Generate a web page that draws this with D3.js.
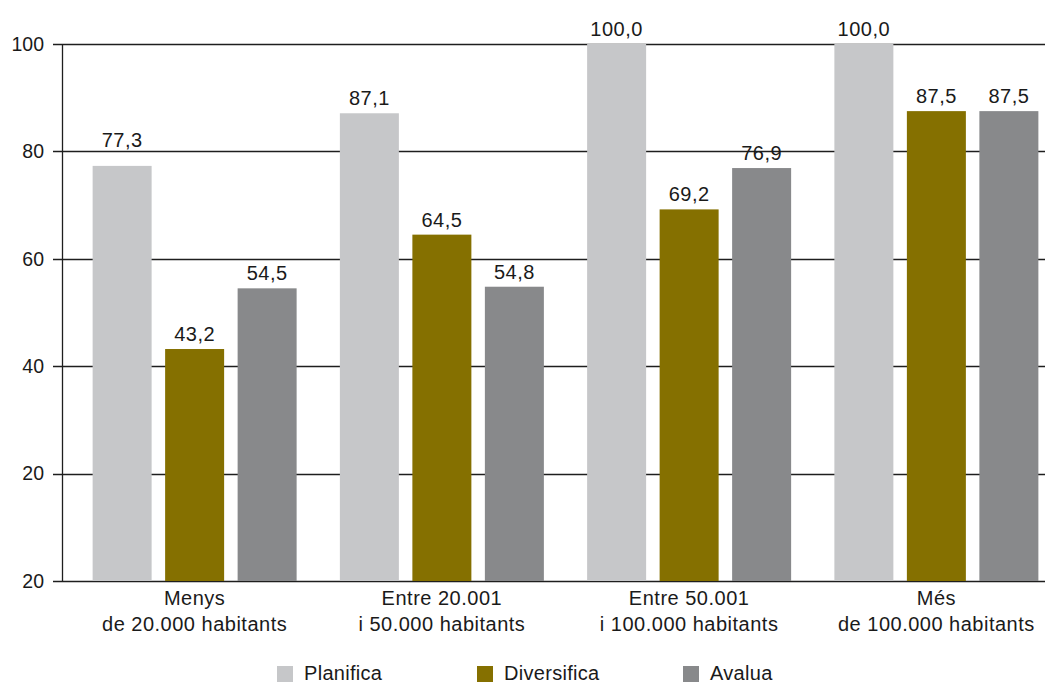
<!DOCTYPE html>
<html>
<head>
<meta charset="utf-8">
<script src="https://cdn.jsdelivr.net/npm/d3@7"></script>
<style>
  html, body { margin: 0; padding: 0; background: #fff; }
  svg { display: block; font-family: "Liberation Sans", Arial, Helvetica, sans-serif; }
</style>
</head>
<body>
<svg id="chart" width="1047" height="682"></svg>
<script>
// Municipality size groups (two-line labels)
const categories = [
  ["Menys", "de 20.000 habitants"],
  ["Entre 20.001", "i 50.000 habitants"],
  ["Entre 50.001", "i 100.000 habitants"],
  ["Més", "de 100.000 habitants"]
];
const seriesNames = ["Planifica", "Diversifica", "Avalua"];
const planifica   = [77.3, 87.1, 100.0, 100.0];
const diversifica = [43.2, 64.5, 69.2, 87.5];
const avalua      = [54.5, 54.8, 76.9, 87.5];
const tickValues  = [0, 20, 40, 60, 80, 100];
const tickLabels  = ["20", "20", "40", "60", "80", "100"];

const seriesValues = [planifica, diversifica, avalua];
const colors = ["#c6c7c9", "#857000", "#88898b"];

const svg = d3.select("#chart");
const axisX = 62, gridRight = 1045;
const catKeys = categories.map((c, i) => i);

const x0 = d3.scaleBand().domain(catKeys).range([71, 1060]).padding(0);
const x1 = d3.scalePoint().domain(seriesNames).range([-72.5, 72.5]);
const barW = 59;
const y = d3.scaleLinear().domain([0, 100]).range([581, 44]);

const fmt = v => d3.format(".1f")(v).replace(".", ",");

// Horizontal gridlines (continuing the tick marks), behind the bars
svg.append("g").selectAll("line").data(tickValues).join("line")
  .attr("x1", 53).attr("x2", gridRight)
  .attr("y1", d => Math.round(y(d)) + 0.5).attr("y2", d => Math.round(y(d)) + 0.5)
  .attr("stroke", "#1e1e1e").attr("stroke-width", 1.3);

// Left axis with custom tick labels
const yAxis = d3.axisLeft(y).tickValues(tickValues)
  .tickFormat((d, i) => tickLabels[i]).tickSize(0).tickPadding(18);
const ag = svg.append("g").attr("transform", `translate(${axisX},0)`).call(yAxis);
ag.select(".domain").remove();
ag.selectAll("text").attr("font-size", "19.5px").attr("fill", "#1a1a1a")
  .attr("font-family", "'Liberation Sans', Arial, sans-serif");
svg.append("line")
  .attr("x1", axisX + 0.5).attr("x2", axisX + 0.5)
  .attr("y1", y(100)).attr("y2", y(0) + 1)
  .attr("stroke", "#1e1e1e").attr("stroke-width", 1.3);

// Bars
const rows = [];
catKeys.forEach(ci => seriesNames.forEach((s, si) => {
  rows.push({ ci, s, si, v: seriesValues[si][ci] });
}));

svg.append("g").selectAll("rect").data(rows).join("rect")
  .attr("x", d => x0(d.ci) + x0.bandwidth() / 2 + x1(d.s) - barW / 2)
  .attr("y", d => y(d.v))
  .attr("width", barW)
  .attr("height", d => y(0) - y(d.v))
  .attr("fill", d => colors[d.si]);

// Value labels above bars; lifted clear of a gridline that would cut through the digits
function labelBaseline(v) {
  const base = y(v) - 8;
  for (const t of tickValues) {
    const gy = y(t);
    const above = base - gy;
    if (above > 0 && above < 8) return gy - 4;
  }
  return base;
}
svg.append("g").selectAll("text").data(rows).join("text")
  .attr("x", d => x0(d.ci) + x0.bandwidth() / 2 + x1(d.s))
  .attr("y", d => labelBaseline(d.v))
  .attr("text-anchor", "middle")
  .attr("font-size", "20px")
  .attr("letter-spacing", "0.5px")
  .attr("fill", "#1a1a1a")
  .text(d => fmt(d.v));

// Category labels
const cg = svg.append("g").selectAll("text").data(catKeys).join("text")
  .attr("x", d => x0(d) + x0.bandwidth() / 2)
  .attr("y", 605)
  .attr("text-anchor", "middle")
  .attr("font-size", "20px")
  .attr("letter-spacing", "0.5px")
  .attr("fill", "#1a1a1a");
cg.selectAll("tspan").data(d => categories[d]).join("tspan")
  .attr("x", function () { return d3.select(this.parentNode).attr("x"); })
  .attr("dy", (d, i) => i === 0 ? 0 : 26)
  .text(d => d);

// Legend
const legendX = [277, 477, 683];
const lg = svg.append("g").selectAll("g").data(seriesNames).join("g")
  .attr("transform", (d, i) => `translate(${legendX[i]},666)`);
lg.append("rect").attr("width", 16).attr("height", 16)
  .attr("fill", (d, i) => colors[i]);
lg.append("text").attr("x", 27).attr("y", 13.5)
  .attr("font-size", "20px").attr("letter-spacing", "0.3px")
  .attr("fill", "#1a1a1a")
  .text(d => d);
</script>
</body>
</html>
